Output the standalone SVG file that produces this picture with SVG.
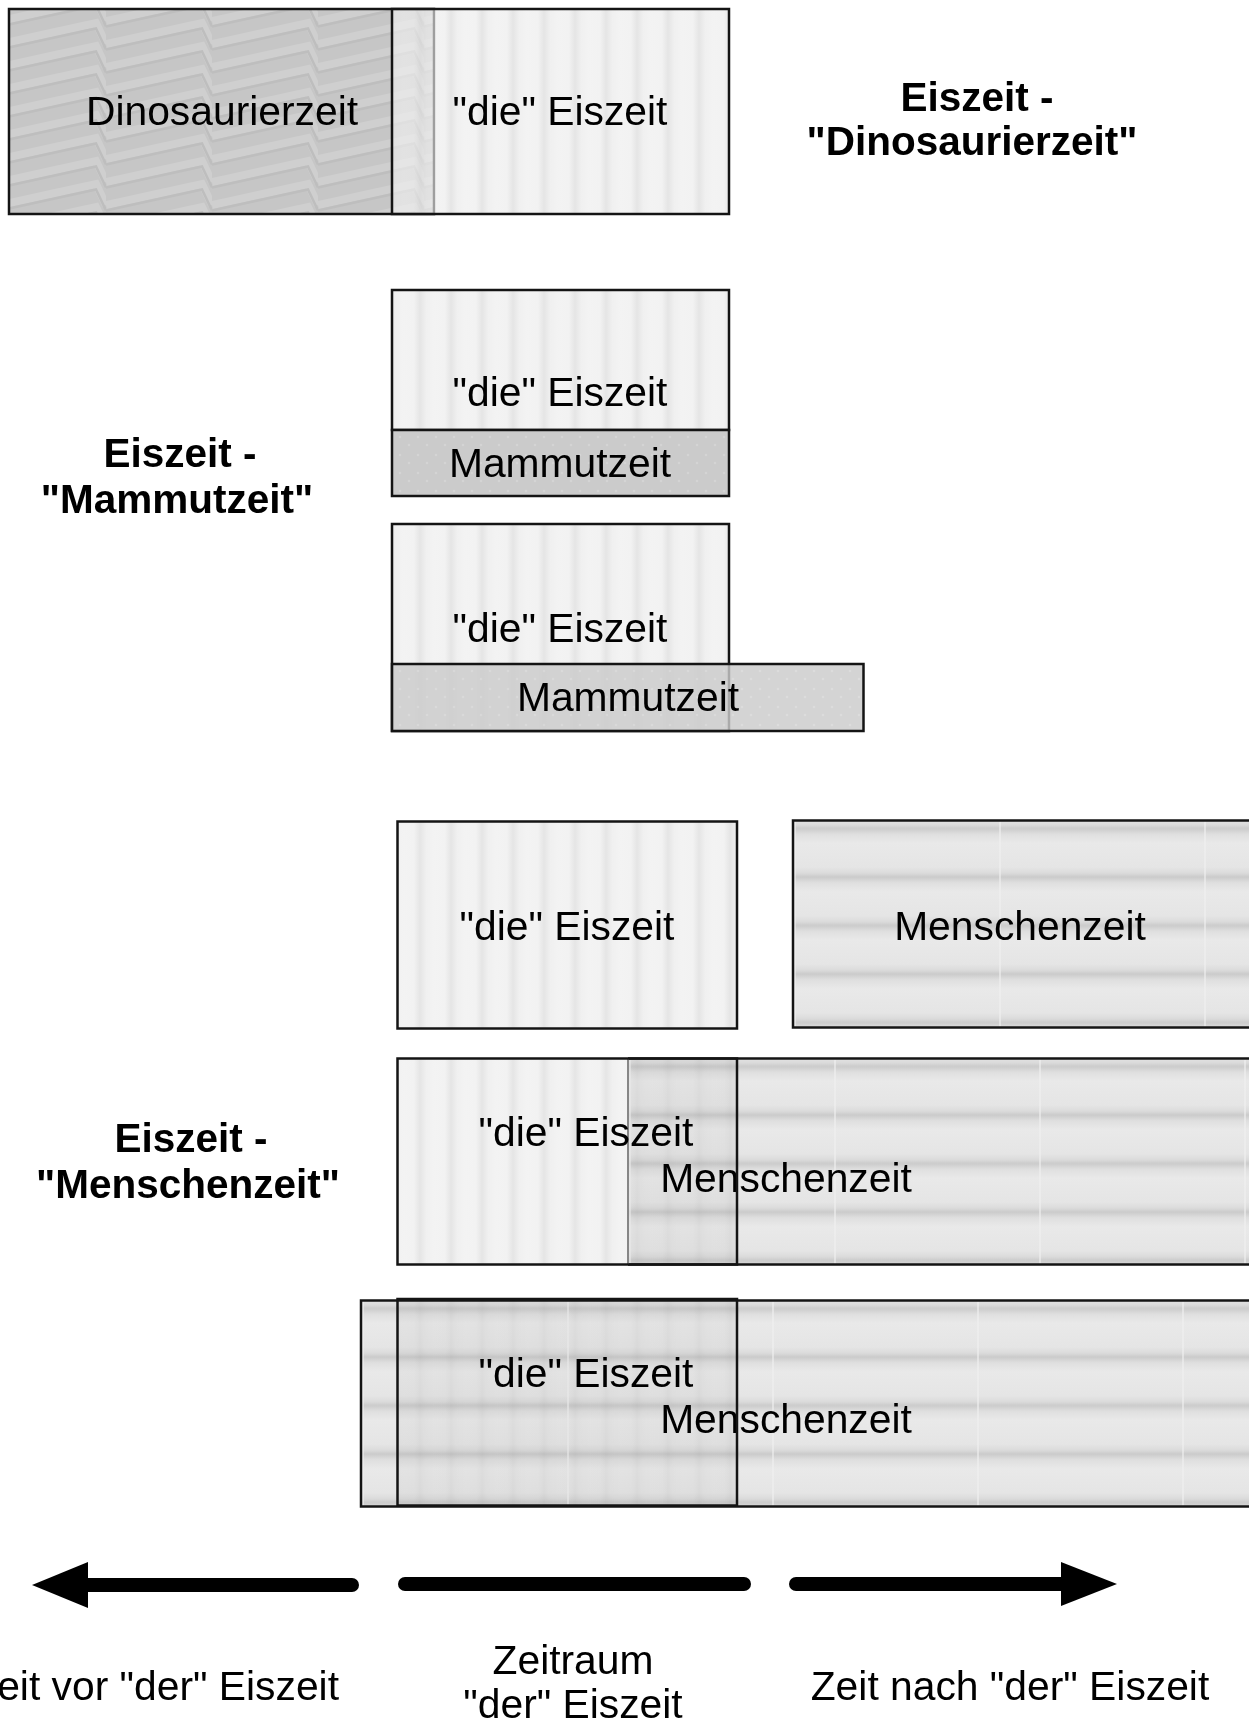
<svg xmlns="http://www.w3.org/2000/svg" width="1249" height="1727" viewBox="0 0 1249 1727">
<style>
.box{stroke:#141414;stroke-width:2.5}
.edge{stroke:#141414;stroke-width:2.5;fill:none}
.lbl{font-family:"Liberation Sans",Arial,Helvetica,sans-serif;font-size:40.8px;fill:#000;text-anchor:middle}
.ttl{font-family:"Liberation Sans",Arial,Helvetica,sans-serif;font-size:40.5px;font-weight:bold;fill:#000;text-anchor:middle}
.mul{mix-blend-mode:multiply}
.bar{stroke:#000;stroke-width:14;stroke-linecap:round;fill:none}
</style>
<defs>
<linearGradient id="gEis" x1="0" y1="0" x2="1" y2="0">
<stop offset="0" stop-color="#f3f3f3"/>
<stop offset="0.35" stop-color="#f2f2f2"/>
<stop offset="0.55" stop-color="#e5e5e5"/>
<stop offset="0.75" stop-color="#f0f0f0"/>
<stop offset="1" stop-color="#f3f3f3"/>
</linearGradient>
<pattern id="pEis" patternUnits="userSpaceOnUse" width="31" height="10">
<rect width="31" height="10" fill="url(#gEis)"/>
</pattern>
<pattern id="pDino" patternUnits="userSpaceOnUse" width="106" height="23">
<rect width="106" height="23" fill="#c6c6c6"/>
<g fill="none">
<path d="M0,21 L96,0 L106,21" stroke="#cfcfcf" stroke-width="8"/>
<path d="M0,-2 L96,-23 L106,-2" stroke="#cfcfcf" stroke-width="8"/>
<path d="M0,44 L96,23 L106,44" stroke="#cfcfcf" stroke-width="8"/>
<path d="M0,26.5 L96,5.5 L106,26.5" stroke="#bebebe" stroke-width="2.5"/>
<path d="M0,3.5 L96,-17.5 L106,3.5" stroke="#bebebe" stroke-width="2.5"/>
<path d="M0,49.5 L96,28.5 L106,49.5" stroke="#bebebe" stroke-width="2.5"/>
</g>
</pattern>
<pattern id="pMam" patternUnits="userSpaceOnUse" width="18" height="18">
<rect width="18" height="18" fill="#cbcbcb"/>
<circle cx="4" cy="5" r="1.3" fill="#d4d4d4"/>
<circle cx="13" cy="13" r="1.3" fill="#d4d4d4"/>
</pattern>
<linearGradient id="gMen" x1="0" y1="0" x2="0" y2="1">
<stop offset="0" stop-color="#cbcbcb"/>
<stop offset="0.12" stop-color="#dfdfdf"/>
<stop offset="0.3" stop-color="#e9e9e9"/>
<stop offset="0.8" stop-color="#e5e5e5"/>
<stop offset="0.92" stop-color="#dbdbdb"/>
<stop offset="1" stop-color="#cbcbcb"/>
</linearGradient>
<pattern id="pMen" patternUnits="userSpaceOnUse" x="1" y="8" width="205" height="48.5">
<rect width="205" height="48.5" fill="url(#gMen)"/>
<rect width="2" height="48.5" fill="#f0f0f0" opacity="0.6"/>
</pattern>
</defs>
<rect width="1249" height="1727" fill="#fff"/>

<!-- Row 1 -->
<g id="dinosaurierzeit">
<rect class="box" x="9" y="9" width="425" height="205" fill="url(#pDino)"/>
<text class="lbl" x="222" y="125">Dinosaurierzeit</text>
</g>
<g id="eiszeit-1">
<rect x="392" y="9" width="43.5" height="205" fill="url(#pEis)" fill-opacity="0.62"/>
<rect x="435.5" y="9" width="293.5" height="205" fill="url(#pEis)"/>
<rect class="edge" x="392" y="9" width="337" height="205"/>
<text class="lbl" x="560" y="125">"die" Eiszeit</text>
</g>
<g id="titel-dinosaurierzeit">
<text class="ttl" x="977" y="111">Eiszeit -</text>
<text class="ttl" x="972" y="155">"Dinosaurierzeit"</text>
</g>

<!-- Row 2 -->
<g id="eiszeit-2">
<rect class="box" x="392" y="290" width="337" height="140" fill="url(#pEis)"/>
<text class="lbl" x="560" y="406">"die" Eiszeit</text>
</g>
<g id="mammutzeit-1">
<rect class="box" x="392" y="430" width="337" height="66" fill="url(#pMam)"/>
<text class="lbl" x="560" y="477">Mammutzeit</text>
</g>
<g id="eiszeit-3">
<rect class="box" x="392" y="524" width="337" height="207" fill="url(#pEis)"/>
<text class="lbl" x="560" y="642">"die" Eiszeit</text>
</g>
<g id="mammutzeit-2">
<rect class="box" x="392" y="664" width="471.5" height="67" fill="url(#pMam)" fill-opacity="0.82"/>
<text class="lbl" x="628" y="711">Mammutzeit</text>
</g>
<g id="titel-mammutzeit">
<text class="ttl" x="180" y="467">Eiszeit -</text>
<text class="ttl" x="177" y="513">"Mammutzeit"</text>
</g>

<!-- Row 3 -->
<g id="eiszeit-4">
<rect class="box" x="397.5" y="821.5" width="339.5" height="207" fill="url(#pEis)"/>
<text class="lbl" x="567" y="939.5">"die" Eiszeit</text>
</g>
<g id="menschenzeit-1">
<rect class="box" transform="translate(793,820.5)" width="460" height="207" fill="url(#pMen)"/>
<text class="lbl" x="1020" y="939.5">Menschenzeit</text>
</g>

<!-- Row 4 -->
<g id="menschenzeit-2">
<rect transform="translate(628,1058.5)" width="625" height="206" fill="url(#pMen)"/>
<path d="M628,1058.5 H1253 M628,1264.5 H1253" class="edge"/>
<path d="M628,1058.5 V1264.5" stroke="#8a8a8a" stroke-width="2" fill="none"/>
<text class="lbl" x="786" y="1191.7">Menschenzeit</text>
</g>
<g id="eiszeit-5">
<rect x="397.5" y="1058.5" width="229.5" height="206" fill="url(#pEis)"/>
<rect class="mul" x="627" y="1058.5" width="110" height="206" fill="url(#pEis)" fill-opacity="0.5"/>
<rect class="edge" x="397.5" y="1058.5" width="339.5" height="206"/>
<text class="lbl" x="586" y="1145.5">"die" Eiszeit</text>
</g>

<!-- Row 5 -->
<g id="menschenzeit-3">
<rect class="box" transform="translate(361,1300.5)" width="892" height="206" fill="url(#pMen)"/>
<text class="lbl" x="786" y="1433">Menschenzeit</text>
</g>
<g id="eiszeit-6">
<rect class="mul" x="397.5" y="1299" width="339.5" height="206.5" fill="url(#pEis)" fill-opacity="0.5"/>
<rect class="edge" x="397.5" y="1299" width="339.5" height="206.5"/>
<text class="lbl" x="586" y="1386.7">"die" Eiszeit</text>
</g>
<g id="titel-menschenzeit">
<text class="ttl" x="191" y="1152">Eiszeit -</text>
<text class="ttl" x="188" y="1198">"Menschenzeit"</text>
</g>

<!-- Timeline -->
<g id="connectors">
<line class="bar" x1="88" y1="1585" x2="352" y2="1585"/>
<polygon points="32,1585 88,1562 88,1608" fill="#000"/>
<line class="bar" x1="405" y1="1584" x2="744" y2="1584"/>
<line class="bar" x1="796" y1="1584" x2="1062" y2="1584"/>
<polygon points="1061,1562 1117,1584 1061,1606" fill="#000"/>
</g>
<g id="zeit-labels">
<text class="lbl" x="339" y="1699.5" style="text-anchor:end">eit vor "der" Eiszeit</text>
<text class="lbl" x="573" y="1674">Zeitraum</text>
<text class="lbl" x="573" y="1718">"der" Eiszeit</text>
<text class="lbl" x="1010" y="1699.5">Zeit nach "der" Eiszeit</text>
</g>
</svg>
